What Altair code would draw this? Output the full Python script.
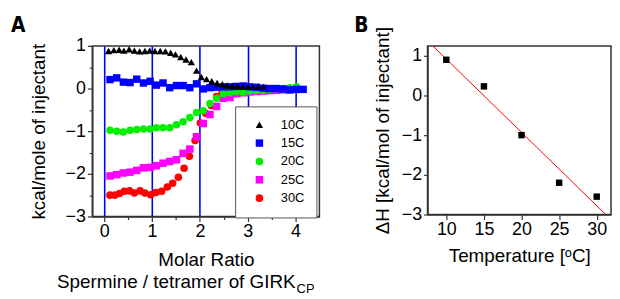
import altair as alt
import pandas as pd

# ---------------- Panel A data ----------------
series_names = ["10C", "15C", "20C", "25C", "30C"]
series_colors = ["#000000", "#0000ff", "#00f000", "#ff00ff", "#ff0000"]
series_shapes = ["triangle-up", "square", "circle", "square", "circle"]
series_sizes = [55, 58, 70, 58, 40]

x_10 = [0.09, 0.20, 0.31, 0.41, 0.52, 0.63, 0.74, 0.85, 0.95, 1.06, 1.17, 1.28, 1.39, 1.49, 1.60, 1.71,
        1.82, 1.93, 2.03, 2.14, 2.25, 2.36, 2.47, 2.57, 2.68, 2.79, 2.90, 3.01, 3.11, 3.22, 3.33]
y_10 = [0.88, 0.90, 0.91, 0.89, 0.92, 0.89, 0.87, 0.88, 0.89, 0.88, 0.88, 0.87, 0.84, 0.80, 0.74, 0.68,
        0.62, 0.42, 0.27, 0.22, 0.17, 0.13, 0.10, 0.07, 0.06, 0.05, 0.04, 0.04, 0.04, 0.04, 0.04]

x_15 = [0.12, 0.26, 0.40, 0.54, 0.68, 0.82, 0.96, 1.09, 1.23, 1.37, 1.51, 1.65, 1.79, 1.93, 2.07,
        2.21, 2.35, 2.49, 2.63, 2.77, 2.91, 3.04, 3.18, 3.32, 3.46, 3.60, 3.74, 3.88, 4.02, 4.16]
y_15 = [0.21, 0.25, 0.15, 0.14, 0.22, 0.13, 0.17, 0.08, 0.13, 0.02, 0.07, 0.07, 0.02, 0.11, -0.01,
        0.02, 0.03, 0.04, 0.04, 0.05, 0.06, 0.04, 0.03, 0.01, 0.00, 0.00, -0.01, -0.03, -0.02, -0.02]

x_20 = [0.12, 0.26, 0.40, 0.54, 0.68, 0.82, 0.96, 1.09, 1.23, 1.37, 1.51, 1.65, 1.79, 1.93, 2.07,
        2.21, 2.35, 2.49, 2.63, 2.77, 2.91, 3.04, 3.18, 3.32, 3.46, 3.60, 3.74, 3.88, 4.02]
y_20 = [-0.98, -1.00, -1.02, -0.98, -0.96, -0.95, -0.95, -0.92, -0.92, -0.92, -0.85, -0.78, -0.68, -0.56,
        -0.52, -0.35, -0.23, -0.12, -0.10, -0.07, -0.09, -0.06, -0.05, -0.04, -0.02, -0.01, 0.00, 0.02, 0.04]

x_25 = [0.12, 0.26, 0.40, 0.54, 0.68, 0.82, 0.96, 1.09, 1.23, 1.37, 1.51, 1.65, 1.79, 1.93, 2.07,
        2.21, 2.35, 2.49, 2.63, 2.77, 2.91, 3.04, 3.18, 3.32, 3.46, 3.60, 3.74, 3.88, 4.02]
y_25 = [-2.05, -2.02, -1.98, -1.96, -1.92, -1.86, -1.85, -1.81, -1.75, -1.71, -1.67, -1.52, -1.42, -1.13,
        -0.82, -0.61, -0.42, -0.23, -0.21, -0.12, -0.10, -0.08, -0.07, -0.06, -0.05, -0.04, -0.03, -0.03, -0.02]

x_30 = [0.12, 0.22, 0.32, 0.42, 0.53, 0.63, 0.75, 0.85, 0.97, 1.08, 1.20, 1.32, 1.43, 1.55, 1.67,
        1.78, 1.90, 2.01, 2.12, 2.24, 2.35, 2.46, 2.57, 2.69, 2.80, 2.91, 3.03, 3.14, 3.25, 3.37]
y_30 = [-2.50, -2.50, -2.46, -2.41, -2.40, -2.45, -2.40, -2.45, -2.49, -2.44, -2.41, -2.31, -2.22, -2.08,
        -1.87, -1.59, -1.22, -0.81, -0.58, -0.40, -0.19, -0.12, -0.08, -0.06, -0.05, -0.04, -0.04, -0.03, -0.03, -0.02]

# ---------------- Panel B data ----------------
temps = [10, 15, 20, 25, 30]
delta_h = [0.90, 0.23, -1.00, -2.20, -2.55]
fit_x = [8.2, 31.2]
fit_y = [1.25, -3.00]

panel_labels = ["A", "B"]
line2_text = ["Spermine / tetramer of GIRK"]
line2_sub = ["CP"]

# ---------------- Tables ----------------
rows = []
for name, xs, ys in [("30C", x_30, y_30), ("25C", x_25, y_25), ("20C", x_20, y_20),
                     ("15C", x_15, y_15), ("10C", x_10, y_10)]:
    for xv, yv in zip(xs, ys):
        rows.append({"ratio": xv, "heat": yv, "series": name})
df_a = pd.DataFrame(rows)
df_b = pd.DataFrame({"temp": temps, "dh": delta_h})
df_fit = pd.DataFrame({"temp": fit_x, "dh": fit_y})

FONT = "Liberation Sans"
LETTER_FONT = "'DejaVu Sans Condensed', 'Liberation Sans Narrow', 'Liberation Sans', sans-serif"
AXIS_COLOR = "#333333"

half_ticks_a_x = [v / 2 for v in range(0, 9)]
half_ticks_a_y = [v / 2 for v in range(-6, 3)]
major_test = "abs(datum.value - round(datum.value)) < 0.001"

legend_a = alt.Legend(
    orient="none", legendX=144, legendY=61, title=None,
    strokeColor="#555555", fillColor="white", padding=12,
    labelFont=FONT, labelFontSize=13, labelColor="black",
    rowPadding=4.5, symbolOffset=6, labelOffset=15, symbolStrokeWidth=0,
)

points_a = alt.Chart(df_a).mark_point(filled=True, opacity=1).encode(
    x=alt.X("ratio:Q",
            scale=alt.Scale(domain=[-0.25, 4.5], nice=False, zero=False),
            axis=alt.Axis(
                values=half_ticks_a_x, title="Molar Ratio",
                labelExpr=f"{major_test} ? format(datum.value, 'd') : ''",
                grid=True, gridColor="#0000ff", gridWidth=1.6,
                gridOpacity={"condition": {"test": major_test, "value": 1}, "value": 0},
                tickSize={"condition": {"test": major_test, "value": 5}, "value": 3},
                labelPadding=1, titlePadding=10)),
    y=alt.Y("heat:Q",
            scale=alt.Scale(domain=[-3, 1], nice=False, zero=False),
            axis=alt.Axis(
                values=half_ticks_a_y, title="kcal/mole of injectant",
                labelExpr=f"{major_test} ? format(datum.value, 'd') : ''",
                grid=False,
                tickSize={"condition": {"test": major_test, "value": 5}, "value": 3},
                labelPadding=2, titlePadding=17)),
    color=alt.Color("series:N", scale=alt.Scale(domain=series_names, range=series_colors), legend=legend_a),
    shape=alt.Shape("series:N", scale=alt.Scale(domain=series_names, range=series_shapes), legend=legend_a),
    size=alt.Size("series:N", scale=alt.Scale(domain=series_names, range=series_sizes), legend=legend_a),
)

sub_main = alt.Chart(pd.DataFrame({"t": line2_text})).mark_text(
    align="right", baseline="alphabetic", font=FONT, fontSize=19, color="black"
).encode(x=alt.value(205), y=alt.value(244), text="t:N")
sub_small = alt.Chart(pd.DataFrame({"t": line2_sub})).mark_text(
    align="left", baseline="alphabetic", font=FONT, fontSize=13, color="black"
).encode(x=alt.value(206), y=alt.value(249), text="t:N")
letter_a = alt.Chart(pd.DataFrame({"t": [panel_labels[0]]})).mark_text(
    align="left", baseline="top", font=LETTER_FONT, fontSize=21, fontWeight="bold", color="black"
).encode(x=alt.value(-82), y=alt.value(-31), text="t:N")

chart_a = alt.layer(points_a, sub_main, sub_small, letter_a).properties(width=229, height=172)

# ---------------- Panel B ----------------
x_scale_b = alt.Scale(domain=[7.5, 31.9], nice=False, zero=False)
y_scale_b = alt.Scale(domain=[-3, 1.25], nice=False, zero=False)
b_x_vals = [10, 12.5, 15, 17.5, 20, 22.5, 25, 27.5, 30]
b_y_vals = [v / 2 for v in range(-6, 3)]
major5 = "datum.value % 5 == 0"

pts_b = alt.Chart(df_b).mark_square(size=42, color="black", opacity=1).encode(
    x=alt.X("temp:Q", scale=x_scale_b,
            axis=alt.Axis(values=b_x_vals, title="Temperature [ᵒC]",
                          labelExpr=f"{major5} ? datum.label : ''",
                          tickSize={"condition": {"test": major5, "value": 5}, "value": 3},
                          grid=False, labelPadding=1, titlePadding=8)),
    y=alt.Y("dh:Q", scale=y_scale_b,
            axis=alt.Axis(values=b_y_vals, title="ΔH [kcal/mol of injectant]",
                          labelExpr=f"{major_test} ? format(datum.value, 'd') : ''",
                          tickSize={"condition": {"test": major_test, "value": 4}, "value": 2},
                          grid=False, labelPadding=2, titlePadding=9)),
)
line_b = alt.Chart(df_fit).mark_line(color="#ff0000", strokeWidth=1, clip=True).encode(
    x=alt.X("temp:Q", scale=x_scale_b),
    y=alt.Y("dh:Q", scale=y_scale_b),
)
letter_b = alt.Chart(pd.DataFrame({"t": [panel_labels[1]]})).mark_text(
    align="left", baseline="top", font=LETTER_FONT, fontSize=21, fontWeight="bold", color="black"
).encode(x=alt.value(-74), y=alt.value(-31), text="t:N")

chart_b = alt.layer(line_b, pts_b, letter_b).properties(width=185, height=170)

chart = alt.hconcat(chart_a, chart_b, spacing=33).configure(
    padding={"left": 2, "top": 5, "right": 0, "bottom": 0},
    font=FONT,
).configure_axis(
    labelFont=FONT, labelFontSize=18, labelColor="black",
    titleFont=FONT, titleFontSize=19, titleColor="black", titleFontWeight="normal",
    domainColor=AXIS_COLOR, domainWidth=1.5, tickColor=AXIS_COLOR, tickWidth=1.2,
).configure_view(
    stroke=AXIS_COLOR, strokeWidth=1.5,
)

chart.save("out.html", embed_options={"renderer": "svg", "actions": False})
